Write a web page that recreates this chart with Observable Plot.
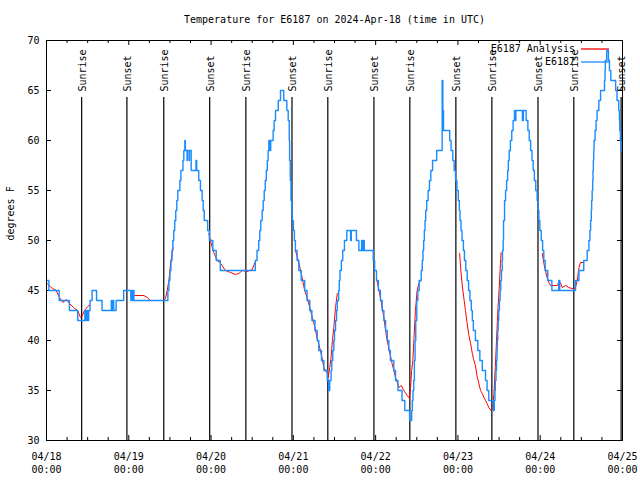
<!DOCTYPE html>
<html><head><meta charset="utf-8">
<script src="https://cdn.jsdelivr.net/npm/d3@7"></script>
<script src="https://cdn.jsdelivr.net/npm/@observablehq/plot@0.6"></script>
<style>body{margin:0;background:#fff}</style>
</head><body><div id="chart"></div>
<script>
const titleText = "Temperature for E6187 on 2024-Apr-18 (time in UTC)";
const yLabelText = "degrees F";
const seriesNames = ["E6187 Analysis", "E6187"];
const startUTC = Date.UTC(2024, 3, 18);

// Observations (hours since 04/18 00:00 UTC, deg F)
const obsHours = [0.0,0.7,3.7,6.7,9.1,11.2,11.4,11.8,12.0,12.3,12.7,13.3,14.6,16.2,18.9,19.1,19.4,19.6,20.3,22.5,24.6,24.8,25.0,25.2,25.5,
35.4,35.7,36.0,36.3,36.6,36.85,37.1,37.4,37.7,38.0,38.3,38.9,39.2,39.8,40.05,40.35,40.5,41.0,41.1,41.6,41.7,42.2,43.6,43.8,44.4,44.9,45.4,45.7,46.0,47.0,47.5,48.5,49.5,50.7,
60.9,61.4,61.9,62.2,62.5,62.9,63.2,63.5,63.8,64.1,64.4,64.65,64.85,65.2,65.4,66.1,66.4,66.8,67.6,68.25,69.2,70.1,70.5,70.8,70.9,71.1,71.3,71.5,71.7,72.0,72.3,72.6,73.1,73.6,74.3,75.3,76.0,76.8,77.4,78.3,78.95,79.4,80.2,80.9,81.9,82.3,82.6,83.0,83.2,83.5,83.8,84.0,84.3,84.6,84.8,85.2,85.4,85.6,86.0,86.4,86.9,87.6,88.7,88.9,90.4,91.1,91.9,92.2,92.5,92.7,95.3,95.7,96.25,96.8,97.4,97.9,98.4,98.9,99.4,99.85,100.3,101.3,101.8,102.5,103.7,104.5,105.9,106.5,106.7,106.9,107.1,107.3,107.5,107.7,108.0,108.3,108.7,109.3,109.6,109.8,110.0,110.2,110.4,110.6,110.9,111.3,111.7,112.1,112.6,113.8,115.4,115.6,115.8,117.6,118.0,118.5,118.9,119.3,119.7,120.1,120.4,120.6,120.9,121.2,121.6,121.9,122.3,122.7,123.1,123.5,123.9,124.2,124.5,125.1,125.8,126.4,127.1,128.05,128.5,129.0,130.3,130.6,130.8,130.9,131.1,131.25,131.4,131.5,131.6,131.75,131.9,132.1,132.3,132.5,132.7,132.9,133.0,133.2,133.3,133.6,133.9,134.2,134.5,134.7,134.95,135.3,135.7,136.1,136.5,136.7,136.9,138.8,139.1,139.9,140.4,140.8,141.2,141.6,141.95,142.3,142.7,143.1,143.4,143.6,143.9,144.3,144.7,145.05,145.45,146.2,147.4,149.4,149.7,154.3,155.3,156.7,157.7,158.2,158.5,158.7,158.9,159.0,159.15,159.3,159.4,159.5,159.6,159.7,160.0,160.3,160.6,161.1,161.6,162.75,162.9,163.0,163.4,163.9,164.2,164.6,166.0,166.4,166.9,167.1,167.2,167.4,167.6,167.7];
const obsTemps = [46,45,44,43,42,43,42,43,42,43,44,45,44,43,44,43,44,43,44,45,44,45,44,45,44,
45,46,47,48,49,50,51,52,53,54,55,56,57,58,59,60,59,58,59,58,59,57,58,57,56,55,54,53,52,51,50,49,48,47,
48,49,50,51,52,53,54,55,56,57,58,59,60,59,60,61,62,63,64,65,64,63,62,60,58,56,54,53,52,51,50,49,48,47,46,45,44,43,42,41,40,39,38,37,36,35,36,37,38,39,40,41,42,43,44,45,46,47,48,49,50,51,50,51,50,49,50,49,50,49,48,47,46,45,44,43,42,41,40,39,38,37,36,35,34,33,32,33,34,35,36,38,40,42,44,45,46,47,48,49,50,51,52,53,54,55,56,57,58,59,66,63,61,60,59,58,57,56,55,54,53,52,51,50,49,48,47,46,45,44,43,42,41,40,39,38,37,36,35,34,33,34,35,36,37,38,39,40,41,42,43,44,45,46,47,48,49,50,52,54,55,56,57,58,59,60,61,62,63,62,63,62,63,62,61,60,59,58,57,56,55,54,53,52,51,50,49,48,47,46,45,46,45,46,47,48,49,50,51,52,53,54,55,56,57,58,59,60,61,62,63,64,65,66,67,68,69,68,67,66,65,64,63,62,61,60,59,59];

// Analysis (null = gap)
const anaHours = [0.2,1.4,2.8,3.8,4.8,5.75,6.7,8.2,9.1,9.9,10.3,11.1,12.05,12.7,null,
24.5,28.4,29.4,30.3,34.2,34.7,35.2,35.7,36.2,36.65,36.9,null,
47.35,47.8,48.8,49.8,50.5,51.2,52.2,53.7,55.1,56.1,57.1,58.5,60.0,60.8,null,
72.6,73.6,74.6,75.3,76.0,77.0,78.0,78.9,79.9,80.9,81.9,82.15,82.6,83.0,83.4,83.8,84.3,84.8,null,
96.4,97.4,98.4,99.1,99.85,100.8,101.8,102.8,103.5,104.2,105.2,105.9,106.2,106.5,106.85,107.2,107.6,108.1,108.6,109.1,null,
120.5,120.85,121.2,121.7,122.2,122.7,123.2,123.7,124.2,124.6,125.1,125.6,126.1,126.6,127.1,127.6,128.05,128.5,129.0,129.7,130.1,130.5,130.9,131.25,131.6,132.0,132.4,132.6,null,
144.6,145.06,145.5,146.0,146.5,147.0,148.0,148.95,149.4,149.9,150.4,151.4,152.3,153.3,153.8,154.3,154.8,155.3,155.75,156.7];
const anaTemps = [45.7,45.3,45.0,44.3,43.8,44.1,43.7,43.2,43.0,42.3,42.4,43.0,43.4,43.6,null,
44.5,44.5,44.3,44.0,44.0,44.2,45.0,46.0,47.7,48.7,49.3,null,
50.7,50.0,48.8,48.0,47.8,47.5,47.0,46.8,46.6,46.7,47.0,46.9,47.1,47.8,null,
49.0,47.8,46.2,45.0,44.3,43.0,41.7,40.3,39.0,37.3,36.7,36.3,37.3,38.3,40.0,41.3,43.3,44.7,null,
46.0,44.3,42.3,40.5,39.2,37.7,36.3,35.3,35.5,35.0,34.5,34.2,35.3,37.0,38.0,40.3,43.0,45.0,45.7,46.0,null,
48.7,47.0,45.7,44.3,43.0,41.7,40.5,39.7,38.7,38.1,37.5,36.4,35.7,35.0,34.7,34.3,34.0,33.7,33.3,33.0,33.3,34.7,37.3,40.0,42.7,45.0,47.7,48.8,null,
48.7,47.7,47.0,46.3,45.8,45.5,45.5,45.5,45.8,45.8,45.3,45.5,45.3,45.2,45.2,45.3,46.0,47.3,47.8,47.8];

const sunriseHours = [10.25, 34.2, 58.15, 82.05, 105.97, 129.9, 153.8];
const sunsetHours = [23.45, 47.6, 71.6, 95.5, 119.4, 143.35, 167.6];
const dayTickHours = [0, 24, 48, 72, 96, 120, 144, 168];
const minorTickHours = [6,12,18,30,36,42,54,60,66,78,84,90,102,108,114,126,132,138,150,156,162];
const yTicks = [30, 35, 40, 45, 50, 55, 60, 65, 70];

const RED = "#ff0000", BLUE = "#1a8cff";
const toDate = h => h == null ? null : new Date(startUTC + h * 3600e3);

const obs = obsHours.map((h, i) => ({date: toDate(h), temp: obsTemps[i]}));
const ana = anaHours.map((h, i) => ({date: toDate(h), temp: anaTemps[i]}));
const events = [
  ...sunriseHours.map(h => ({date: toDate(h), label: "Sunrise"})),
  ...sunsetHours.map(h => ({date: toDate(h), label: "Sunset"}))
];
const dayTicks = dayTickHours.map(toDate);
const minorTicks = minorTickHours.map(toDate);
const fmt = d3.utcFormat("%m/%d\n%H:%M");

const legend = (index, scales, values, dim) => {
  const right = dim.width - dim.marginRight, top = dim.marginTop;
  const g = d3.create("svg:g");
  [[seriesNames[0], RED, 9], [seriesNames[1], BLUE, 22]].forEach(([name, col, dy]) => {
    g.append("text").attr("x", right - 47).attr("y", top + dy).attr("dy", "0.32em")
      .attr("text-anchor", "end").attr("fill", "black").text(name);
    g.append("line").attr("x1", right - 41).attr("x2", right - 13)
      .attr("y1", top + dy).attr("y2", top + dy).attr("stroke", col).attr("stroke-width", 1.3);
  });
  return g.node();
};

const chart = Plot.plot({
  width: 640, height: 480,
  marginLeft: 46, marginRight: 18, marginTop: 40, marginBottom: 40,
  style: {fontFamily: "'DejaVu Sans Mono', monospace", fontSize: "10px", background: "white", color: "black"},
  x: {type: "utc", domain: [toDate(0), toDate(168)], axis: null},
  y: {domain: [30, 70], axis: null},
  marks: [
    Plot.ruleX(events, {x: "date", insetTop: 57, stroke: "black", strokeWidth: 1.2}),
    Plot.text(events, {x: "date", text: "label", frameAnchor: "top", rotate: -90, textAnchor: "start", lineAnchor: "middle", dy: 51, dx: 1}),
    Plot.ruleX(dayTicks, {x: d => d, insetTop: 395}),
    Plot.ruleX(dayTicks, {x: d => d, insetBottom: 395}),
    Plot.ruleX(minorTicks, {x: d => d, insetTop: 397}),
    Plot.ruleX(minorTicks, {x: d => d, insetBottom: 397}),
    Plot.ruleY(yTicks, {y: d => d, insetRight: 571}),
    Plot.ruleY(yTicks, {y: d => d, insetLeft: 571}),
    Plot.text(dayTicks, {x: d => d, text: d => fmt(d), frameAnchor: "bottom", lineAnchor: "top", dy: 10, lineHeight: 1.3}),
    Plot.text(yTicks, {y: d => d, text: d => String(d), frameAnchor: "left", textAnchor: "end", dx: -7}),
    Plot.line(ana, {x: "date", y: "temp", stroke: RED, strokeWidth: 1}),
    Plot.line(obs, {x: "date", y: "temp", stroke: BLUE, strokeWidth: 1.4, curve: "step-after"}),
    Plot.frame({stroke: "black"}),
    Plot.text([titleText], {frameAnchor: "top", dy: -21, lineAnchor: "middle"}),
    Plot.text([yLabelText], {frameAnchor: "left", rotate: -90, dx: -36, lineAnchor: "middle"}),
    legend
  ]
});
document.getElementById("chart").append(chart);
</script>
</body></html>
